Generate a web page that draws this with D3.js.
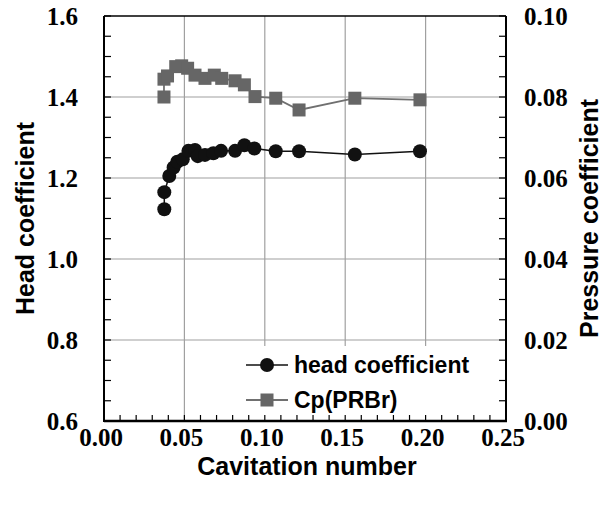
<!DOCTYPE html>
<html><head><meta charset="utf-8">
<script src="https://cdn.jsdelivr.net/npm/d3@7"></script>
<style>html,body{margin:0;padding:0;background:#fff;}svg{display:block;}</style>
</head><body>
<script>
// Data
const headX = [0.0375,0.0375,0.0406,0.0433,0.0456,0.0490,0.0525,0.0566,0.0583,0.0628,0.0680,0.0728,0.0815,0.0873,0.0935,0.1068,0.1213,0.1560,0.1965];
const headY = [1.123,1.165,1.205,1.226,1.240,1.246,1.267,1.269,1.254,1.257,1.261,1.267,1.267,1.281,1.273,1.266,1.266,1.258,1.266];
const cpX = [0.0373,0.0373,0.0395,0.0446,0.0483,0.0520,0.0566,0.0628,0.0686,0.0732,0.0815,0.0873,0.0939,0.1068,0.1213,0.1560,0.1965];
const cpY = [0.0800,0.0844,0.0852,0.0875,0.0877,0.0871,0.0854,0.0846,0.0854,0.0846,0.0840,0.0830,0.0801,0.0797,0.0768,0.0797,0.0793];
const xTicks = [0.00,0.05,0.10,0.15,0.20,0.25];
const yLeftTicks = [0.6,0.8,1.0,1.2,1.4,1.6];
const yRightTicks = [0.00,0.02,0.04,0.06,0.08,0.10];
const seriesNames = ["head coefficient","Cp(PRBr)"];

const W=607,H=505;
const L=104,R=506,T=16,B=421;
const svg=d3.select("body").append("svg").attr("width",W).attr("height",H);
const x=d3.scaleLinear().domain([0,0.25]).range([L,R]);
const yL=d3.scaleLinear().domain([0.6,1.6]).range([B,T]);
const yR=d3.scaleLinear().domain([0,0.10]).range([B,T]);

// grid
const g=svg.append("g");
g.selectAll("line.gx").data(xTicks.slice(1,-1)).join("line")
 .attr("x1",d=>x(d)).attr("x2",d=>x(d)).attr("y1",T).attr("y2",B)
 .attr("stroke","#a0a0a0").attr("stroke-width",1.2);
g.selectAll("line.gy").data(yLeftTicks.slice(1,-1)).join("line")
 .attr("x1",L).attr("x2",R).attr("y1",d=>yL(d)).attr("y2",d=>yL(d))
 .attr("stroke","#a0a0a0").attr("stroke-width",1.2);

// legend box background (covers grid)
svg.append("rect").attr("x",238).attr("y",346).attr("width",R-238).attr("height",B-346).attr("fill","#fff");

// axes with inward ticks
const tf="Liberation Serif, Times New Roman, serif";
const xMinor=d3.range(0,0.2501,0.01);
const yMinorL=d3.range(0.6,1.6001,0.05);
const yMinorR=d3.range(0,0.1001,0.005);
const ax=svg.append("g");
ax.selectAll("line.tx").data(xMinor).join("line")
 .attr("x1",d=>x(d)).attr("x2",d=>x(d)).attr("y1",B).attr("y2",B-6).attr("stroke","#000").attr("stroke-width",1.2);
ax.selectAll("line.tyl").data(yMinorL).join("line")
 .attr("x1",L).attr("x2",L+7).attr("y1",d=>yL(d)).attr("y2",d=>yL(d)).attr("stroke","#000").attr("stroke-width",1.2);
ax.selectAll("line.tyr").data(yMinorR).join("line")
 .attr("x1",R).attr("x2",R-7).attr("y1",d=>yR(d)).attr("y2",d=>yR(d)).attr("stroke","#000").attr("stroke-width",1.2);
// frame
svg.append("line").attr("x1",L).attr("x2",R).attr("y1",T).attr("y2",T).attr("stroke","#000").attr("stroke-width",1.5);
svg.append("line").attr("x1",L).attr("x2",R+1).attr("y1",B).attr("y2",B).attr("stroke","#000").attr("stroke-width",2.5);
svg.append("line").attr("x1",L).attr("x2",L).attr("y1",T).attr("y2",B+1).attr("stroke","#000").attr("stroke-width",2);
svg.append("line").attr("x1",R).attr("x2",R).attr("y1",T).attr("y2",B+1).attr("stroke","#000").attr("stroke-width",2);

// tick labels
const fs=25;
ax.selectAll("text.xl").data(xTicks).join("text")
 .attr("x",d=>x(d)-3).attr("y",446).attr("text-anchor","middle")
 .attr("font-family",tf).attr("font-weight","bold").attr("font-size",fs).text(d=>d.toFixed(2));
ax.selectAll("text.yl").data(yLeftTicks).join("text")
 .attr("x",78).attr("y",d=>yL(d)+9).attr("text-anchor","end")
 .attr("font-family",tf).attr("font-weight","bold").attr("font-size",fs).text(d=>d.toFixed(1));
ax.selectAll("text.yr").data(yRightTicks).join("text")
 .attr("x",524).attr("y",d=>yR(d)+9).attr("text-anchor","start")
 .attr("font-family",tf).attr("font-weight","bold").attr("font-size",fs).text(d=>d.toFixed(2));

// titles
const sf="Liberation Sans, Arial, sans-serif";
svg.append("text").attr("x",307).attr("y",475).attr("text-anchor","middle")
 .attr("font-family",sf).attr("font-weight","bold").attr("font-size",25).text("Cavitation number");
svg.append("text").attr("transform",`translate(34,${(T+B)/2}) rotate(-90)`).attr("text-anchor","middle")
 .attr("font-family",sf).attr("font-weight","bold").attr("font-size",25).text("Head coefficient");
svg.append("text").attr("transform",`translate(598,${(T+B)/2}) rotate(-90)`).attr("text-anchor","middle")
 .attr("font-family",sf).attr("font-weight","bold").attr("font-size",25).text("Pressure coefficient");

// series
const headData=headX.map((v,i)=>[v,headY[i]]);
const cpData=cpX.map((v,i)=>[v,cpY[i]]);
svg.append("path").datum(cpData).attr("fill","none").attr("stroke","#707070").attr("stroke-width",1.8)
 .attr("d",d3.line().x(d=>x(d[0])).y(d=>yR(d[1])));
svg.append("path").datum(headData).attr("fill","none").attr("stroke","#111").attr("stroke-width",1.5)
 .attr("d",d3.line().x(d=>x(d[0])).y(d=>yL(d[1])));
const s=13;
svg.selectAll("rect.cp").data(cpData).join("rect")
 .attr("x",d=>x(d[0])-s/2).attr("y",d=>yR(d[1])-s/2).attr("width",s).attr("height",s).attr("fill","#666");
svg.selectAll("circle.h").data(headData).join("circle")
 .attr("cx",d=>x(d[0])).attr("cy",d=>yL(d[1])).attr("r",7).attr("fill","#111");

// legend
const lg=svg.append("g");
const ly=[365,400];
lg.append("line").attr("x1",246).attr("x2",288).attr("y1",ly[0]).attr("y2",ly[0]).attr("stroke","#111").attr("stroke-width",1.5);
lg.append("circle").attr("cx",267).attr("cy",ly[0]).attr("r",7).attr("fill","#111");
lg.append("line").attr("x1",246).attr("x2",288).attr("y1",ly[1]).attr("y2",ly[1]).attr("stroke","#707070").attr("stroke-width",1.8);
lg.append("rect").attr("x",267-s/2).attr("y",ly[1]-s/2).attr("width",s).attr("height",s).attr("fill","#666");
lg.selectAll("text").data(seriesNames).join("text")
 .attr("x",294).attr("y",(d,i)=>ly[i]+8).attr("font-family",sf).attr("font-weight","bold").attr("font-size",23).text(d=>d);
</script>
</body></html>
